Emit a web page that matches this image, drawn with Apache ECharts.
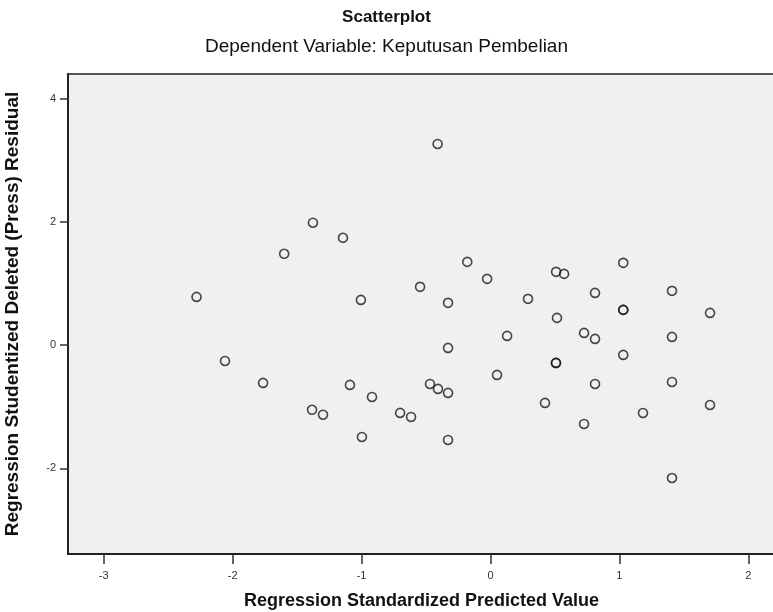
<!DOCTYPE html>
<html>
<head>
<meta charset="utf-8">
<script src="https://cdn.jsdelivr.net/npm/echarts@6/dist/echarts.min.js"></script>
<style>html,body{margin:0;padding:0;background:#fff}#c{width:773px;height:612px}</style>
</head>
<body>
<div id="c"></div>
<script>
var titleText = 'Scatterplot';
var subtitleText = 'Dependent Variable: Keputusan Pembelian';
var xAxisTitle = 'Regression Standardized Predicted Value';
var yAxisTitle = 'Regression Studentized Deleted (Press) Residual';
var xTicks = [-3, -2, -1, 0, 1, 2];
var yTicks = [-2, 0, 2, 4];
var xValues = [-0.41, -1.377, -1.144, -1.60, -2.28, -0.18, -0.026, 0.509, 0.571, 1.03,
  -0.546, -1.005, -0.329, 0.291, 0.811, 1.03, 1.03, 1.408, 1.703, 0.516,
  0.129, 0.726, 0.811, 1.408, -0.329, -2.059, 0.508, 0.508, 1.03, -1.764,
  -1.09, -0.469, -0.407, -0.329, 0.051, 0.811, 1.408, -0.919, -1.384, -1.299,
  -0.701, -0.616, 0.423, 1.183, 1.703, -0.997, -0.329, 0.726, 1.408];
var yValues = [3.27, 1.99, 1.745, 1.485, 0.785, 1.354, 1.078, 1.192, 1.159, 1.338,
  0.948, 0.736, 0.688, 0.753, 0.850, 0.574, 0.574, 0.883, 0.525, 0.444,
  0.151, 0.200, 0.102, 0.135, -0.044, -0.256, -0.288, -0.288, -0.158, -0.613,
  -0.645, -0.63, -0.71, -0.775, -0.483, -0.63, -0.597, -0.841, -1.05, -1.13,
  -1.10, -1.166, -0.938, -1.101, -0.971, -1.491, -1.54, -1.28, -2.158];

var pts = xValues.map(function (x, i) { return [x, yValues[i]]; });
var chart = echarts.init(document.getElementById('c'), null, {renderer: 'canvas'});
var font = 'Liberation Sans, Arial, sans-serif';
chart.setOption({
  animation: false,
  backgroundColor: '#ffffff',
  title: [
    {text: titleText, left: 'center', top: 4,
     textStyle: {fontFamily: font, fontSize: 17, fontWeight: 'bold', color: '#111'}},
    {text: subtitleText, left: 'center', top: 32,
     textStyle: {fontFamily: font, fontSize: 19, fontWeight: 'normal', color: '#111'}}
  ],
  grid: {left: 68, top: 74, width: 707, height: 480, show: true,
         backgroundColor: '#f0f0f0', borderColor: '#222', borderWidth: 1.5,
         outerBoundsMode: 'none', containLabel: false},
  xAxis: {
    type: 'value', min: -3.277, max: 2.207,
    name: xAxisTitle, nameLocation: 'middle', nameGap: 38,
    nameTextStyle: {fontFamily: font, fontSize: 18, fontWeight: 'bold', color: '#111'},
    axisLine: {show: true, onZero: false, lineStyle: {color: '#222', width: 2}},
    axisTick: {show: true, length: 10, customValues: xTicks, lineStyle: {color: '#333', width: 1.5}},
    axisLabel: {customValues: xTicks, margin: 16, fontFamily: font, fontSize: 11, color: '#333'},
    splitLine: {show: false}
  },
  yAxis: {
    type: 'value', min: -3.393, max: 4.407,
    name: yAxisTitle, nameLocation: 'middle', nameGap: 46, nameRotate: 90,
    nameTextStyle: {fontFamily: font, fontSize: 19, fontWeight: 'bold', color: '#111'},
    axisLine: {show: true, onZero: false, lineStyle: {color: '#222', width: 2}},
    axisTick: {show: true, length: 8, customValues: yTicks, lineStyle: {color: '#333', width: 1.5}},
    axisLabel: {customValues: yTicks, margin: 12, fontFamily: font, fontSize: 11, color: '#333'},
    splitLine: {show: false}
  },
  series: [{
    type: 'scatter', data: pts, symbol: 'circle', symbolSize: 9,
    itemStyle: {color: 'rgba(0,0,0,0)', borderColor: '#1a1a1a', borderWidth: 1.6}
  }]
});
</script>
</body>
</html>
